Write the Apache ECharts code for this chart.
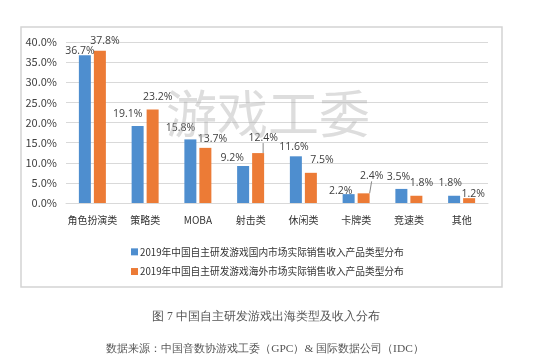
<!DOCTYPE html>
<html><head><meta charset="utf-8">
<script src="https://cdn.jsdelivr.net/npm/echarts@6/dist/echarts.min.js"></script>
<style>html,body{margin:0;padding:0;background:#fff}#c{width:550px;height:363px}</style>
</head><body><div id="c"></div>
<script>
const categories = ['角色扮演类','策略类','MOBA','射击类','休闲类','卡牌类','竞速类','其他'];
const domestic = [36.7, 19.1, 15.8, 9.2, 11.6, 2.2, 3.5, 1.8];
const overseas = [37.8, 23.2, 13.7, 12.4, 7.5, 2.4, 1.8, 1.2];
const seriesNames = ['2019年中国自主研发游戏国内市场实际销售收入产品类型分布','2019年中国自主研发游戏海外市场实际销售收入产品类型分布'];
const yTicks = [0, 5, 10, 15, 20, 25, 30, 35, 40];
const watermark = '游戏工委';
const caption = '图 7 中国自主研发游戏出海类型及收入分布';
const source = '数据来源：中国音数协游戏工委（GPC）& 国际数据公司（IDC）';

// label placement tweaks (style only)
const domDx = [-5, -10, -10, -11, -2, -8, -3, -4];
const domDy = [6, -2, -1, 2, 1, 7, -2, -2];
const ovDx = [5, 5, 7, 5, 11, 8, 5, 4];
const ovDy = [0, -2, 1, -5, -3, -7, -2, 6];
const ovLine = [false, false, false, true, false, true, false, false];

const chart = echarts.init(document.getElementById('c'), null, {renderer: 'canvas'});
const labelBase = {show: true, position: 'top', distance: 5, fontSize: 10.5, color: '#404040',
  fontFamily: '"Open Sans","Noto Sans CJK SC",sans-serif', formatter: p => p.value.toFixed(1) + '%'};
chart.setOption({
  animation: false,
  backgroundColor: '#fff',
  textStyle: {fontFamily: '"Noto Sans CJK SC",sans-serif'},
  graphic: [
    {type: 'rect', shape: {x: 21, y: 27, width: 481, height: 260}, style: {fill: 'none', stroke: '#d4d4d4', lineWidth: 1.5}, z: -10},
    {type: 'text', left: 166, top: 88, style: {text: watermark, font: '51px "Noto Sans CJK SC"', fill: 'rgba(170,170,170,0.4)'}, z: 100},
    {type: 'text', x: 266, y: 317, style: {text: caption, font: '11.6px serif', fill: '#555', align: 'center', verticalAlign: 'middle'}},
    {type: 'text', x: 265, y: 349, style: {text: source, font: '11.4px serif', fill: '#555', align: 'center', verticalAlign: 'middle'}}
  ],
  grid: {left: 66, right: 62, top: 42, bottom: 160},
  legend: {orient: 'vertical', left: 126, top: 242, itemWidth: 7, itemHeight: 7, itemGap: 10, icon: 'rect',
    textStyle: {fontSize: 9.7, color: '#333', padding: [0, 0, 0, -3]}, data: seriesNames},
  xAxis: {type: 'category', data: categories,
    axisLine: {lineStyle: {color: '#d9d9d9'}}, axisTick: {show: false},
    axisLabel: {fontSize: 10, color: '#333', margin: 12, interval: 0}},
  yAxis: {type: 'value', min: yTicks[0], max: yTicks[yTicks.length - 1], interval: yTicks[1] - yTicks[0],
    axisLine: {show: false}, axisTick: {show: false},
    splitLine: {lineStyle: {color: '#d9d9d9'}},
    axisLabel: {fontSize: 11, color: '#404040', margin: 9, formatter: v => v.toFixed(1) + '%'}},
  series: [
    {name: seriesNames[0], type: 'bar', barWidth: 12, barGap: '25%', itemStyle: {color: '#4E8ECF'},
     data: domestic, label: labelBase,
     labelLayout: p => ({dx: domDx[p.dataIndex], dy: domDy[p.dataIndex]})},
    {name: seriesNames[1], type: 'bar', barWidth: 12, barGap: '25%', itemStyle: {color: '#EC7B36'},
     data: overseas.map((v, i) => ({value: v, labelLine: {show: ovLine[i], lineStyle: {color: '#888', width: 1}}})),
     label: labelBase, labelLine: {show: false},
     labelLayout: p => ({dx: ovDx[p.dataIndex], dy: ovDy[p.dataIndex]})}
  ]
});
</script></body></html>
